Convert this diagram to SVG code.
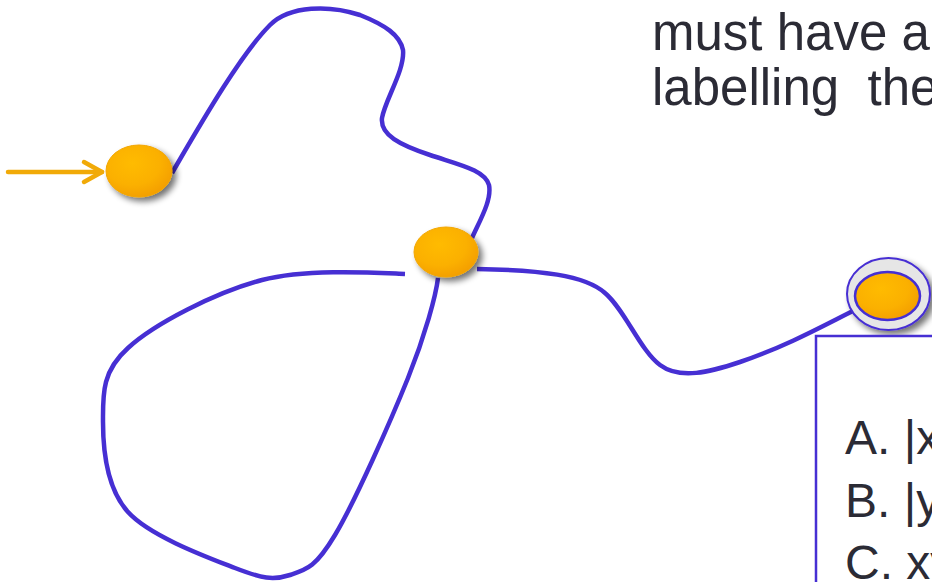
<svg xmlns="http://www.w3.org/2000/svg" width="932" height="582" viewBox="0 0 932 582">
<style>
  .edge { fill: none; stroke: #462fd3; stroke-width: 4.5; stroke-linecap: butt; }
  .state { fill: url(#orange); stroke: #f2a600; stroke-width: 1; filter: url(#shadow); }
  .txt { font-family: "Liberation Sans", Arial, sans-serif; fill: #2b2b35; white-space: pre; }
</style>
<defs>
  <radialGradient id="orange" cx="0.4" cy="0.35" r="0.7">
    <stop offset="0" stop-color="#ffbb00"/>
    <stop offset="0.6" stop-color="#fbb000"/>
    <stop offset="1" stop-color="#f39d00"/>
  </radialGradient>
  <filter id="shadow" x="-30%" y="-30%" width="170%" height="170%">
    <feGaussianBlur in="SourceAlpha" stdDeviation="3"/>
    <feOffset dx="4" dy="4" result="b"/>
    <feComponentTransfer><feFuncA type="linear" slope="0.55"/></feComponentTransfer>
    <feMerge><feMergeNode/><feMergeNode in="SourceGraphic"/></feMerge>
  </filter>
</defs>
<rect width="932" height="582" fill="#ffffff"/>

<g id="title">
  <text class="txt" x="652" y="50" font-size="51">must have a</text>
  <text class="txt" x="652" y="105" font-size="51">labelling  the</text>
</g>

<g id="connectors">
  <path class="edge" d="M172,173 C200,125 240,55 270,25 C290,5 330,5 360,15 C385,25 400,35 403,50 C405,70 385,100 382,118 C380,135 400,145 430,155 C460,165 485,170 489,185 C492,200 480,220 472,238"/>
  <path class="edge" d="M405,274 C380,273 308,268 262,280 C216,292 154,324 128,348 C101.5,371.7 103,394.7 103,422 C103,449.3 106,487.7 128,512 C150,536.3 208,557.5 235,568 C262,578.5 273.3,580.5 290,575 C306.7,569.5 315.3,567.8 335,535 C354.7,502.2 390.8,420.8 408,378 C425.2,335.2 436,295 438,278"/>
  <path class="edge" d="M477,269 C540,270 585,275 605,293 C625,310 640,350 660,365 C680,380 710,372 740,362 C790,345 830,322 857,309"/>
  <g id="start-arrow" fill="none" stroke="#f1aa08" stroke-width="4.5" stroke-linecap="round" stroke-linejoin="round">
    <line x1="8" y1="172" x2="102" y2="172"/>
    <polyline points="84,162 102,172 84,182"/>
  </g>
</g>

<g id="q0">
  <ellipse class="state" cx="139" cy="171" rx="33" ry="26"/>
</g>
<g id="q1">
  <ellipse class="state" cx="446" cy="252" rx="32" ry="25"/>
</g>
<g id="q2">
  <ellipse cx="888.5" cy="294" rx="41.5" ry="36" fill="#e6e6e6" stroke="#462fd3" stroke-width="2" filter="url(#shadow)"/>
  <ellipse cx="887.5" cy="296" rx="32.5" ry="24" fill="url(#orange)" stroke="#462fd3" stroke-width="2.5"/>
</g>

<g id="question-box">
  <rect x="816" y="336" width="140" height="280" fill="#ffffff" stroke="#462fd3" stroke-width="2.5"/>
  <text class="txt" x="845" y="454" font-size="48">A. |x</text>
  <text class="txt" x="845" y="517" font-size="48">B. |y</text>
  <text class="txt" x="845" y="579" font-size="48">C. xy</text>
</g>
</svg>
